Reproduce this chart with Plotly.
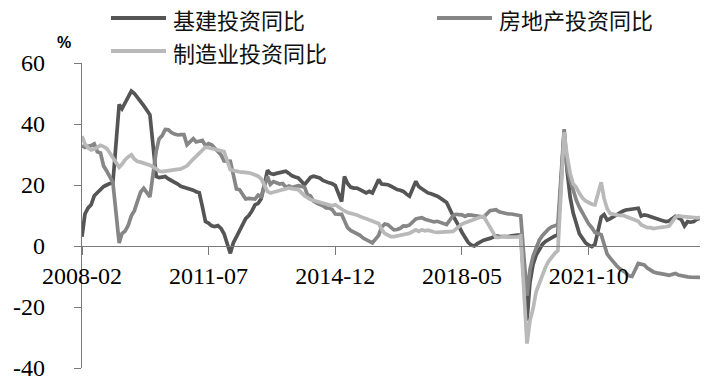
import plotly.graph_objects as go

# Monthly cumulative YoY (%), Feb..Dec each year (January not published), 2008-02 .. 2024-10
years = list(range(2008, 2025))
months = [f"{y}-{m:02d}" for y in years for m in range(2, 13) if (y, m) <= (2024, 10)]

infra = [
    3.0, 10.5, 12.5, 13.5, 16.5, 17.5, 18.5, 19.5, 20.0, 20.5, 20.6,      # 2008
    46.4, 45.0, 47.0, 49.0, 50.8, 50.0, 48.8, 47.5, 46.0, 44.5, 43.0,     # 2009
    22.8, 22.4, 22.6, 22.8, 22.0, 21.5, 21.0, 20.3, 19.6, 19.3, 19.0,     # 2010
    18.3, 17.8, 17.5, 13.0, 8.0, 7.5, 6.6, 6.4, 6.7, 5.8, 4.0,            # 2011
    -2.4, 1.0, 3.0, 5.0, 7.5, 9.0, 10.0, 11.5, 13.5, 14.0, 15.5,          # 2012
    24.8, 23.8, 23.5, 23.8, 24.0, 24.3, 24.5, 23.8, 23.0, 22.6, 22.3,     # 2013
    20.1, 21.2, 22.5, 22.9, 22.5, 22.3, 21.5, 21.0, 20.7, 20.4, 19.8,     # 2014
    14.6, 22.8, 20.5, 19.3, 19.0, 19.0, 18.5, 18.0, 17.4, 17.9, 17.4,     # 2015
    21.8, 20.3, 20.2, 20.1, 19.6, 19.0, 18.5, 18.3, 17.9, 17.0, 16.3,     # 2016
    21.2, 19.5, 18.8, 18.0, 17.4, 17.1, 16.8, 16.3, 15.7, 15.0, 14.3,     # 2017
    10.0, 8.5, 6.5, 4.5, 2.5, 1.2, 0.3, 0.0, 0.8, 1.4, 1.9,               # 2018
    2.5, 3.0, 3.3, 3.2, 3.1, 3.1, 3.1, 3.3, 3.6, 3.6, 3.6,                # 2019
    -24.5, -12.0, -6.0, -3.0, -1.0, 0.5, 1.5, 2.2, 2.8, 3.3, 3.6,         # 2020
    37.5, 25.0, 16.0, 10.8, 7.0, 4.0, 2.5, 1.0, 0.3, -0.2, 0.5,           # 2021
    9.5, 10.3, 8.5, 9.0, 9.6, 10.2, 11.0, 11.4, 11.8, 12.0, 12.1,         # 2022
    12.4, 9.8, 10.2, 10.0, 9.6, 9.1, 8.8, 8.6, 8.3, 8.0, 8.2,             # 2023
    9.7, 9.2, 8.6, 6.6, 8.0, 7.8, 8.0, 8.8, 9.1,                          # 2024
]

realestate = [
    32.9, 32.3, 32.7, 32.9, 33.5, 30.9, 30.5, 26.2, 24.6, 22.7, 20.9,
    1.0, 4.1, 4.9, 6.8, 9.9, 11.6, 14.7, 17.7, 18.9, 17.7, 16.1,
    31.1, 35.1, 36.2, 38.2, 38.1, 37.2, 36.7, 36.4, 36.5, 36.5, 33.2,
    35.2, 34.1, 34.3, 34.6, 32.9, 33.6, 33.2, 32.0, 31.1, 29.9, 27.9,
    27.8, 23.5, 18.7, 18.5, 16.6, 15.4, 15.6, 15.4, 15.4, 16.7, 16.2,
    22.8, 20.2, 21.1, 20.6, 20.3, 20.5, 19.3, 19.7, 19.2, 19.5, 19.8,
    19.3, 16.8, 16.4, 14.7, 14.1, 13.7, 13.2, 12.5, 12.4, 11.9, 10.5,
    10.4, 8.5, 6.0, 5.1, 4.6, 4.3, 3.5, 2.6, 2.0, 1.3, 1.0,
    3.5, 6.2, 7.2, 7.0, 6.1, 5.3, 5.4, 5.8, 6.6, 6.5, 6.9,
    8.9, 9.1, 9.3, 8.8, 8.5, 7.9, 7.9, 8.1, 7.8, 7.5, 7.0,
    9.9, 10.4, 10.3, 10.2, 9.7, 10.2, 10.1, 9.9, 9.7, 9.7, 9.5,
    11.6, 11.8, 11.9, 11.2, 10.9, 10.6, 10.5, 10.5, 10.3, 10.2, 9.9,
    -16.3, -7.7, -3.3, -0.3, 1.9, 3.4, 4.6, 5.6, 6.3, 6.8, 7.0,
    38.3, 25.6, 21.6, 18.3, 15.0, 12.7, 10.9, 8.8, 7.2, 6.0, 4.4,
    3.7, 0.7, -2.7, -4.0, -5.4, -6.4, -7.4, -8.0, -8.8, -9.8, -10.0,
    -5.7, -5.8, -6.2, -7.2, -7.9, -8.5, -8.8, -9.1, -9.3, -9.4, -9.6,
    -9.0, -9.5, -9.8, -10.1, -10.1, -10.2, -10.2, -10.1, -10.3,
]

manufacturing = [
    36.0, 33.5, 32.2, 31.5, 31.8, 32.5, 33.0, 32.6, 32.0, 30.5, 29.0,
    25.8, 26.8, 28.3, 29.2, 29.9, 28.5, 27.7, 27.5, 27.2, 26.8, 26.5,
    25.3, 24.6, 24.4, 24.5, 24.7, 24.8, 24.9, 25.0, 25.3, 25.8, 26.3,
    28.5, 29.4, 30.5, 31.6, 32.4, 32.2, 32.0, 31.8, 31.7, 31.5, 31.0,
    25.0, 24.7, 24.5, 24.3, 24.2, 24.2, 24.0, 23.7, 23.3, 22.9, 22.0,
    17.9, 17.4, 17.6, 17.9, 18.2, 18.5, 18.8, 19.0, 18.8, 18.6, 18.5,
    16.5, 15.8, 15.2, 14.9, 14.6, 14.4, 14.1, 13.9, 13.5, 13.2, 13.5,
    11.9, 11.5, 11.0, 10.8, 10.5, 10.2, 9.7, 9.3, 8.9, 8.6, 8.2,
    7.4, 5.5, 4.1, 3.6, 3.1, 3.1, 3.3, 3.5, 3.6, 3.9, 4.2,
    5.3, 4.8, 5.3, 5.0, 5.2, 4.8, 4.6, 4.5, 4.6, 4.5, 4.8,
    4.8, 5.5, 6.3, 7.2, 7.6, 8.0, 8.3, 8.6, 9.0, 9.5, 9.7,
    5.9, 4.3, 2.8, 2.8, 3.0, 3.2, 2.9, 2.9, 3.0, 3.0, 3.3,
    -32.0, -24.5, -20.5, -15.0, -12.0, -9.5, -7.0, -5.0, -3.5, -2.4, -1.5,
    37.3, 29.8, 23.8, 20.4, 19.2, 17.3, 15.7, 14.8, 14.2, 13.7, 13.5,
    20.9, 15.6, 12.2, 10.6, 10.4, 9.9, 10.0, 10.1, 9.7, 9.3, 9.1,
    8.1, 7.0, 6.4, 6.0, 6.0, 5.7, 5.9, 6.2, 6.2, 6.3, 6.5,
    9.4, 9.9, 9.7, 9.6, 9.5, 9.3, 9.1, 9.2, 9.3,
]

series_names = ["基建投资同比", "房地产投资同比", "制造业投资同比"]
series_values = [infra, realestate, manufacturing]
series_colors = ["#555555", "#868686", "#b9b9b9"]

x_ticks = ["2008-02", "2011-07", "2014-12", "2018-05", "2021-10"]
y_ticks = [-40, -20, 0, 20, 40, 60]

W, H = 708, 388
L, R, T, B = 82, 8, 63, 20
PW, PH = W - L - R, H - T - B


def px2x(px):
    return (px - L) / PW


def py2y(py):
    return (H - B - py) / PH


fig = go.Figure()
for name, vals, col in zip(series_names, series_values, series_colors):
    fig.add_trace(go.Scatter(x=months, y=vals, name=name, mode="lines",
                             line=dict(color=col, width=3.7), showlegend=False))

axis_col = "#7a7a7a"
tick_font = dict(family="Liberation Serif", size=24, color="#000000")
fig.update_xaxes(type="date", range=[months[0], months[-1]],
                 anchor="free", position=0.4,
                 showline=True, linecolor=axis_col, linewidth=1.3,
                 ticks="outside", ticklen=8, tickcolor=axis_col, tickwidth=1.3,
                 tickvals=x_ticks, ticktext=x_ticks, tickfont=tick_font,
                 ticklabelstandoff=0,
                 showgrid=False, zeroline=False)
fig.update_yaxes(range=[-40, 60], tickvals=y_ticks, ticktext=[str(v) for v in y_ticks],
                 showline=True, linecolor=axis_col, linewidth=1.3,
                 ticks="outside", ticklen=7, tickcolor=axis_col, tickwidth=1.3,
                 tickfont=tick_font, ticklabelstandoff=24,
                 showgrid=False, zeroline=False)

# legend drawn as in the reference (long line samples)
legend_pos = [(111, 18), (437, 18), (111, 51)]
shapes, annotations = [], []
for (lx, ly), name, col in zip(legend_pos, series_names, series_colors):
    shapes.append(dict(type="line", xref="paper", yref="paper",
                       x0=px2x(lx), x1=px2x(lx + 55), y0=py2y(ly), y1=py2y(ly),
                       line=dict(color=col, width=4)))
    annotations.append(dict(xref="paper", yref="paper", x=px2x(lx + 60), y=py2y(ly + 1),
                            xanchor="left", yanchor="middle", showarrow=False, text=name,
                            font=dict(family="Noto Sans CJK SC", size=22, color="#111111")))
annotations.append(dict(xref="paper", yref="paper", x=px2x(64), y=py2y(43),
                        xanchor="center", yanchor="middle", showarrow=False, text="<b>%</b>",
                        font=dict(family="Liberation Sans Narrow, Liberation Sans", size=16, color="#000000")))

fig.update_layout(width=W, height=H, margin=dict(l=L, r=R, t=T, b=B, pad=0),
                  paper_bgcolor="white", plot_bgcolor="white",
                  shapes=shapes, annotations=annotations)

fig.write_html("out.html")
